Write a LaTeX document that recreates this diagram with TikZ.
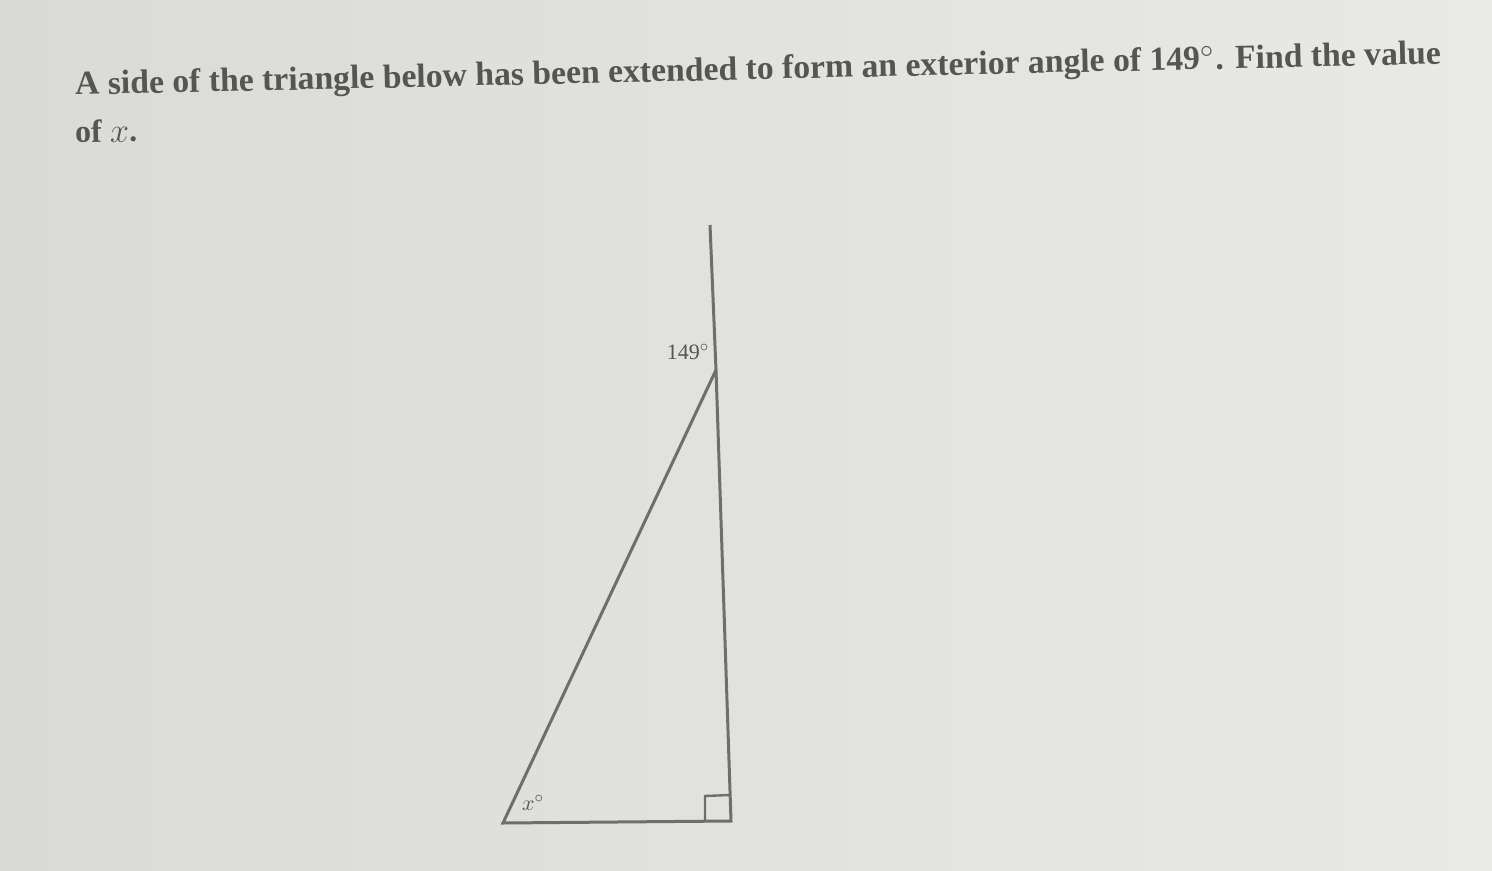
\documentclass[tikz,border=0pt]{standalone}
\usepackage{fontspec}
\setmainfont{Liberation Serif}
\usetikzlibrary{calc}
\definecolor{bgL}{RGB}{218,219,214}
\definecolor{bgR}{RGB}{233,233,230}
\definecolor{ink}{RGB}{85,85,82}
\definecolor{linec}{RGB}{110,110,108}
\tikzset{
  qtext/.style={inner sep=0pt, anchor=base west, text=ink, rotate=1.3},
  edge/.style={draw=linec, line width=1.5pt},
  lbl/.style={inner sep=0pt, text=ink, font=\fontsize{11}{11}\selectfont}
}
\begin{document}
\begin{tikzpicture}[x=0.5pt,y=-0.5pt]
\shade[left color=bgL, right color=bgR] (0,0) rectangle (1492,871);
\useasboundingbox (0,0) rectangle (1492,871);
% question text
\node[qtext] (line1) at (75,95) {\resizebox{683pt}{!}{\bfseries\color{ink}A side of the triangle below has been extended to form an exterior angle of 149\textsuperscript{$\circ$}. Find the value}};
\node[qtext] (line2) at (75,143) {\fontsize{16}{16}\selectfont\bfseries of $x$.};
% triangle vertices
\coordinate (top) at (710,225);
\coordinate (C) at (716,370);
\coordinate (B) at (731,821);
\coordinate (A) at (503,823);
\draw[edge] (top) -- (C) -- (B) -- (A) -- (C);
% right angle mark
\coordinate (r1) at (705,821);
\coordinate (r2) at (705,796);
\coordinate (r3) at (730,795);
\draw[draw=linec, line width=1.2pt] (r1) -- (r2) -- (r3);
% labels
\node[lbl] (ang149) at (688,352) {149\textsuperscript{$\circ$}};
\node[lbl] (angx) at (533,803) {$x^\circ$};
\end{tikzpicture}
\end{document}
